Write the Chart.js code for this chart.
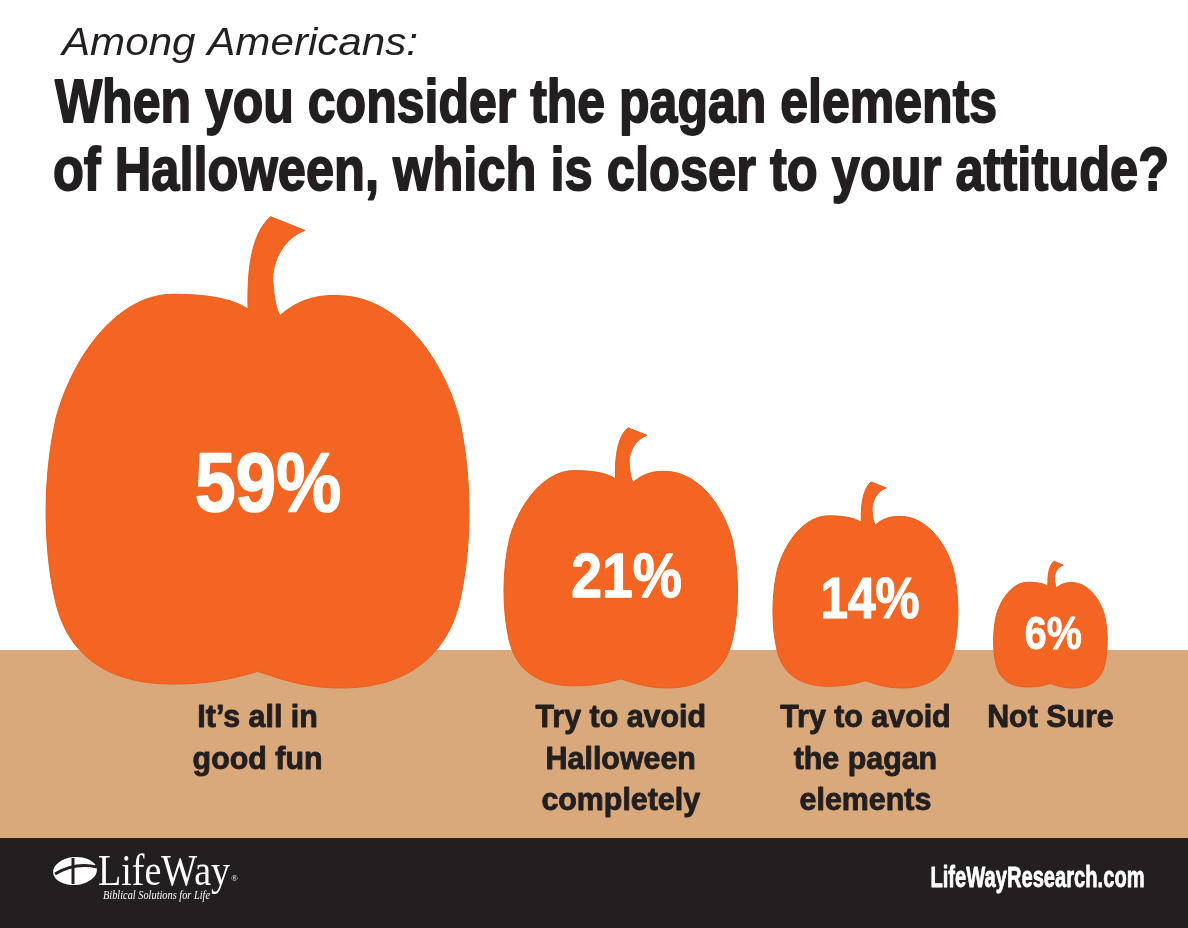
<!DOCTYPE html>
<html>
<head>
<meta charset="utf-8">
<script src="https://cdn.jsdelivr.net/npm/chart.js@4/dist/chart.umd.min.js"></script>
<style>
  html, body { margin: 0; padding: 0; background: #fff; overflow: hidden; }
  canvas { display: block; }
</style>
</head>
<body>
<canvas id="chart" width="1188" height="928"></canvas>
<script>
// survey answers, one pumpkin each
const CATEGORIES = [
  ['It\u2019s all in', 'good fun'],
  ['Try to avoid', 'Halloween', 'completely'],
  ['Try to avoid', 'the pagan', 'elements'],
  ['Not Sure']
];
const VALUES = [59, 21, 14, 6];

const SUBTITLE = 'Among Americans:';
const TITLE = ['When you consider the pagan elements', 'of Halloween, which is closer to your attitude?'];
const SITE = 'LifeWayResearch.com';

const ORANGE = '#F26522';
const GROUND = '#D9A97B';
const DARK = '#231F20';
const BOLD = '"Liberation Sans", Arial, sans-serif';

// pumpkin width grows a bit faster than sqrt(value)
const SIZE_EXP = 0.575;
const GAP = 0.9;
const sizes = VALUES.map(v => Math.pow(v, SIZE_EXP));
let acc = 0;
const centers = sizes.map(s => {
  const c = acc + s / 2;
  acc += s + GAP;
  return c;
});
const total = acc - GAP;

function drawText(ctx, text, x, y, font, color, align, sx, weight) {
  ctx.save();
  ctx.font = font;
  ctx.fillStyle = color;
  ctx.strokeStyle = color;
  ctx.textAlign = align;
  ctx.textBaseline = 'alphabetic';
  ctx.translate(x, y);
  ctx.scale(sx, 1);
  ctx.fillText(text, 0, 0);
  if (weight) {
    // fake the heavier condensed face
    ctx.lineWidth = weight;
    ctx.lineJoin = 'round';
    ctx.strokeText(text, 0, 0);
  }
  ctx.restore();
}

function fitText(ctx, text, x, y, font, color, width, weight) {
  ctx.save();
  ctx.font = font;
  const sx = (width - (weight || 0)) / ctx.measureText(text).width;
  ctx.restore();
  drawText(ctx, text, x + (weight || 0) / 2, y, font, color, 'left', sx, weight);
}

function drawPumpkin(ctx, cx, bottom, W) {
  const hw = W / 2;
  const H = W * 0.935;
  const top = bottom - H;
  const P = (u, v) => [cx + u * hw, top + v * H];
  const C = (a, b, c) => ctx.bezierCurveTo(...P(...a), ...P(...b), ...P(...c));

  ctx.save();
  ctx.fillStyle = ORANGE;
  ctx.strokeStyle = '#E85E1F';
  ctx.lineWidth = 1;
  ctx.beginPath();
  ctx.moveTo(...P(0.107, 0.054));
  // right half
  C([0.2, 0.01], [0.3, 0.0], [0.40, 0.004]);
  C([0.66, 0.01], [0.87, 0.15], [0.955, 0.31]);
  C([1.02, 0.46], [1.02, 0.64], [0.96, 0.78]);
  C([0.89, 0.94], [0.66, 1.0], [0.40, 1.0]);
  C([0.2, 1.0], [0.08, 0.97], [0.0, 0.958]);
  // left half
  C([-0.08, 0.97], [-0.2, 0.99], [-0.40, 0.99]);
  C([-0.66, 0.99], [-0.89, 0.94], [-0.96, 0.78]);
  C([-1.02, 0.64], [-1.02, 0.46], [-0.955, 0.31]);
  C([-0.87, 0.15], [-0.66, 0.0], [-0.40, 0.0]);
  C([-0.25, 0.0], [-0.12, 0.01], [-0.045, 0.038]);
  // stem
  C([-0.05, -0.06], [-0.03, -0.155], [0.062, -0.197]);
  ctx.lineTo(...P(0.226, -0.162));
  C([0.13, -0.145], [0.065, -0.085], [0.073, -0.03]);
  C([0.078, 0.01], [0.09, 0.04], [0.107, 0.054]);
  ctx.closePath();
  ctx.fill();
  ctx.stroke();
  ctx.restore();
  return { top, H, hw };
}

function drawLogo(ctx) {
  ctx.save();
  ctx.fillStyle = '#fff';
  ctx.beginPath();
  ctx.ellipse(75, 871, 22, 14, -0.08, 0, Math.PI * 2);
  ctx.fill();
  ctx.strokeStyle = DARK;
  ctx.lineWidth = 3;
  ctx.beginPath();
  ctx.moveTo(73, 858);
  ctx.lineTo(73, 884);
  ctx.stroke();
  ctx.beginPath();
  ctx.moveTo(55, 874);
  ctx.quadraticCurveTo(75, 862, 97, 867);
  ctx.stroke();
  ctx.restore();
  fitText(ctx, 'LifeWay', 98, 885, '45px "Liberation Serif", serif', '#fff', 132);
  drawText(ctx, '\u00AE', 231, 881, '9px "Liberation Serif", serif', '#fff', 'left', 1);
  fitText(ctx, 'Biblical Solutions for Life', 103, 899, 'italic 12px "Liberation Serif", serif', '#fff', 107);
}

const pumpkinPlugin = {
  id: 'pumpkins',
  beforeDraw(chart) {
    const ctx = chart.ctx;
    ctx.save();
    ctx.fillStyle = '#fff';
    ctx.fillRect(0, 0, chart.width, chart.height);
    ctx.fillStyle = GROUND;
    ctx.fillRect(0, 650, chart.width, 188);
    ctx.fillStyle = DARK;
    ctx.fillRect(0, 838, chart.width, chart.height - 838);
    ctx.restore();
  },
  afterDatasetsDraw(chart) {
    const ctx = chart.ctx;
    const xs = chart.scales.x;
    const meta = chart.getDatasetMeta(0);
    meta.data.forEach((el, i) => {
      const W = xs.getPixelForValue(sizes[i]) - xs.getPixelForValue(0);
      const p = drawPumpkin(ctx, el.x, el.y, W);
      const fs = 84 * Math.pow(VALUES[i] / 59, 0.27);
      const mid = p.top + p.H * 0.475;
      drawText(ctx, VALUES[i] + '%', el.x + p.hw * 0.05, mid + fs * 0.358,
        'bold ' + fs + 'px ' + BOLD, '#fff', 'center', 0.87, fs / 50);
      chart.data.labels[i].forEach((line, j) => {
        drawText(ctx, line, el.x, 727 + j * 41.5,
          'bold 31px ' + BOLD, DARK, 'center', 0.98, 0.9);
      });
    });
  },
  afterDraw(chart) {
    const ctx = chart.ctx;
    fitText(ctx, SUBTITLE, 62, 55, 'italic 39px ' + BOLD, DARK, 356);
    fitText(ctx, TITLE[0], 54, 122, 'bold 61px ' + BOLD, DARK, 944, 1.8);
    fitText(ctx, TITLE[1], 52, 190, 'bold 61px ' + BOLD, DARK, 1118, 1.8);
    drawLogo(ctx);
    fitText(ctx, SITE, 930, 887, 'bold 29px ' + BOLD, '#fff', 215, 0.8);
  }
};

new Chart(document.getElementById('chart'), {
  type: 'bubble',
  data: {
    labels: CATEGORIES,
    datasets: [{
      label: 'Share',
      data: VALUES.map((v, i) => ({ x: centers[i], y: 0, r: 0 })),
      backgroundColor: 'rgba(0,0,0,0)',
      borderWidth: 0
    }]
  },
  options: {
    responsive: false,
    animation: false,
    layout: { padding: { left: 47, right: 81, top: 0, bottom: 240 } },
    scales: {
      x: { type: 'linear', min: 0, max: total, display: false },
      y: { type: 'linear', min: 0, max: 1, display: false }
    },
    plugins: {
      legend: { display: false },
      tooltip: { enabled: false }
    }
  },
  plugins: [pumpkinPlugin]
});
</script>
</body>
</html>
